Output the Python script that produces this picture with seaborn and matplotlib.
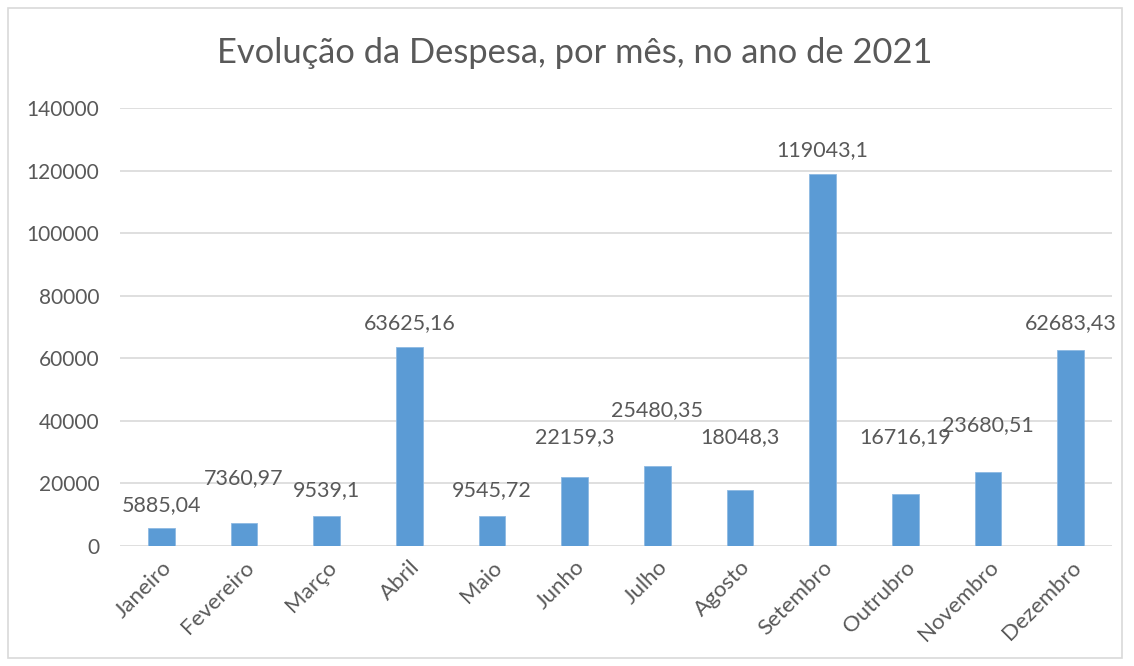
import matplotlib
matplotlib.use('Agg')
import matplotlib.pyplot as plt
import seaborn as sns
import pandas as pd
from matplotlib.patches import Rectangle

# Data
meses = ["Janeiro", "Fevereiro", "Março", "Abril", "Maio", "Junho",
         "Julho", "Agosto", "Setembro", "Outrubro", "Novembro", "Dezembro"]
despesa = [5885.04, 7360.97, 9539.1, 63625.16, 9545.72, 22159.3,
           25480.35, 18048.3, 119043.1, 16716.19, 23680.51, 62683.43]
rotulos = ["5885,04", "7360,97", "9539,1", "63625,16", "9545,72", "22159,3",
           "25480,35", "18048,3", "119043,1", "16716,19", "23680,51", "62683,43"]

# Label heights (data units) - Excel labels were dragged around by hand
label_y = [13100, 21700, 17900, 71300, 17900, 34800,
           43500, 34800, 126600, 34800, 38700, 71300]

df = pd.DataFrame({"Mes": meses, "Despesa": despesa})

sns.set_style("white")
plt.rcParams['font.family'] = ['Lato', 'DejaVu Sans']
text_color = "#595959"
grid_color = "#D9D9D9"
bar_color = "#5B9BD5"

fig = plt.figure(figsize=(11.34, 6.66), dpi=100)
ax = fig.add_axes([120 / 1134, 1 - 546 / 666, 992 / 1134, 438 / 666])

sns.barplot(data=df, x="Mes", y="Despesa", color=bar_color, width=0.32,
            saturation=1, ax=ax, zorder=3, edgecolor="#8DB9E3", linewidth=0.6)

ax.set_ylim(0, 140000)
ax.set_yticks(range(0, 140001, 20000))
ax.yaxis.grid(True, color=grid_color, linewidth=1.2, zorder=0)
ax.set_axisbelow(True)
for s in ax.spines.values():
    s.set_visible(False)
ax.set_xlabel("")
ax.set_ylabel("")
ax.tick_params(axis='y', length=0, pad=15, labelsize=15, labelcolor=text_color)
ax.tick_params(axis='x', length=0, pad=8, labelsize=16, labelcolor=text_color)
plt.setp(ax.get_xticklabels(), rotation=45, ha='right', va='top', rotation_mode='anchor')

for i, (t, y) in enumerate(zip(rotulos, label_y)):
    ax.text(i, y, t, ha='center', va='center', fontsize=15.5, color=text_color, zorder=4)

fig.text(575 / 1134, 1 - 53 / 666, "Evolução da Despesa, por mês, no ano de 2021",
         ha='center', va='center', fontsize=24.8, color=text_color)

fig.patches.append(Rectangle((8 / 1134, 8 / 666), 1114 / 1134, 650 / 666,
                             transform=fig.transFigure, fill=False,
                             edgecolor=grid_color, linewidth=1.2))

plt.savefig("out.png", dpi=100)
